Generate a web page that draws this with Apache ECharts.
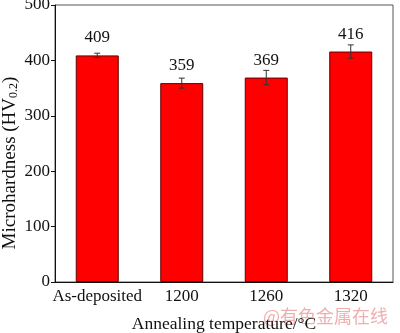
<!DOCTYPE html>
<html>
<head>
<meta charset="utf-8">
<script src="https://cdn.jsdelivr.net/npm/echarts@6/dist/echarts.min.js"></script>
<style>
  html, body { margin: 0; padding: 0; background: #fff; }
  #container { width: 400px; height: 333px; }
</style>
</head>
<body>
<div id="container"></div>
<script>
var categories = ['As-deposited', '1200', '1260', '1320'];
var hardness = [409, 359, 369, 416];
var errors = [4, 9, 13, 12];
var yTicks = [0, 100, 200, 300, 400, 500];

var serif = '"Liberation Serif", "Times New Roman", serif';

var errData = [];
for (var i = 0; i < hardness.length; i++) {
  errData.push([i, hardness[i] - errors[i], hardness[i] + errors[i]]);
}

var dom = document.getElementById('container');
var myChart = echarts.init(dom);

var option = {
  animation: false,
  grid: {
    left: 55,
    right: 7,
    top: 5,
    bottom: 51,
    outerBoundsMode: 'none',
    containLabel: false,
    show: true,
    borderColor: '#555',
    borderWidth: 1
  },
  xAxis: {
    type: 'category',
    data: categories,
    name: 'Annealing temperature/°C',
    nameLocation: 'middle',
    nameGap: 33,
    nameTextStyle: { fontFamily: serif, fontSize: 17.5, color: '#111' },
    axisLine: { lineStyle: { color: '#111', width: 1 } },
    axisTick: { show: false },
    axisLabel: { interval: 0, fontFamily: serif, fontSize: 17, color: '#111', margin: 6 }
  },
  yAxis: {
    type: 'value',
    min: yTicks[0],
    max: yTicks[yTicks.length - 1],
    interval: 100,
    axisLine: { show: true, lineStyle: { color: '#111', width: 1 } },
    axisTick: { show: true, inside: false, length: 4, lineStyle: { color: '#111' } },
    splitLine: { show: false },
    axisLabel: { fontFamily: serif, fontSize: 17, color: '#111', margin: 5 }
  },
  series: [
    {
      name: 'Microhardness',
      type: 'bar',
      data: hardness,
      barWidth: 43,
      itemStyle: { color: '#ff0000', borderColor: '#600000', borderWidth: 1 },
      label: {
        show: true,
        position: 'top',
        distance: 9,
        fontFamily: serif,
        fontSize: 17,
        color: '#111'
      }
    },
    {
      name: 'Error',
      type: 'custom',
      data: errData,
      z: 10,
      renderItem: function (params, api) {
        var x = api.value(0);
        var lo = api.coord([x, api.value(1)]);
        var hi = api.coord([x, api.value(2)]);
        var w = 3;
        var style = { stroke: '#333', lineWidth: 1 };
        return {
          type: 'group',
          children: [
            { type: 'line', shape: { x1: lo[0], y1: lo[1], x2: hi[0], y2: hi[1] }, style: style },
            { type: 'line', shape: { x1: lo[0] - w, y1: lo[1], x2: lo[0] + w, y2: lo[1] }, style: style },
            { type: 'line', shape: { x1: hi[0] - w, y1: hi[1], x2: hi[0] + w, y2: hi[1] }, style: style }
          ]
        };
      }
    }
  ],
  graphic: [
    {
      // y axis title, rotated
      type: 'text',
      x: 10,
      y: 163,
      rotation: Math.PI / 2,
      style: {
        text: '{n|Microhardness (HV}{s|0.2}{n|)}',
        align: 'center',
        verticalAlign: 'middle',
        rich: {
          n: { fontFamily: serif, fontSize: 19, fill: '#111', lineHeight: 20 },
          s: { fontFamily: serif, fontSize: 12, fill: '#111', lineHeight: 20, verticalAlign: 'bottom' }
        }
      }
    },
    {
      type: 'text',
      left: 263,
      top: 307,
      style: {
        text: '@有色金属在线',
        fontFamily: '"Noto Sans CJK SC", sans-serif',
        fontSize: 18,
        fill: 'rgba(235, 140, 140, 0.7)'
      }
    }
  ]
};

myChart.setOption(option, true);
</script>
</body>
</html>
